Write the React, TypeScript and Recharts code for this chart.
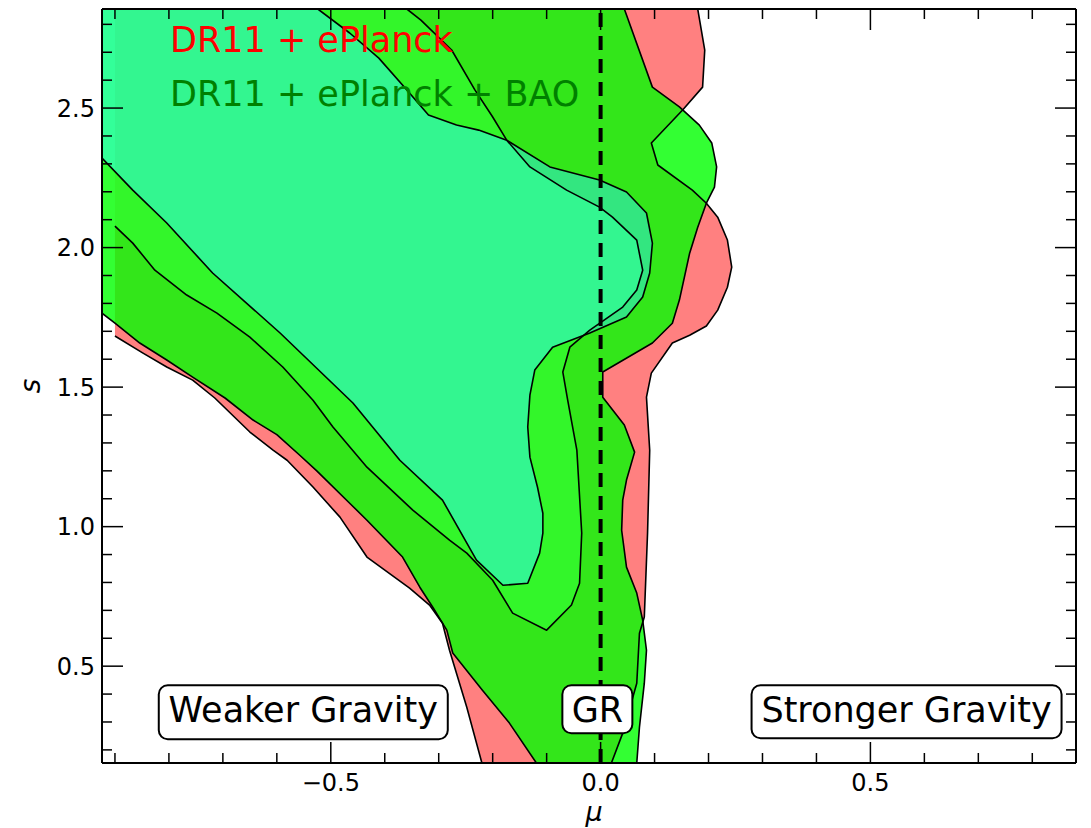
import React from 'react';
import { ScatterChart, Scatter, XAxis, YAxis } from 'recharts';

type Pt = [number, number];

// plotted window in (mu, s)
const MU_RANGE: [number, number] = [-0.924, 0.881];
const S_RANGE: [number, number] = [0.153, 2.855];
// the DR11 + ePlanck grid starts a little right of the frame
const RED_GRID_EDGE = -0.9;

const MU_TICKS = [-0.9, -0.8, -0.7, -0.6, -0.5, -0.4, -0.3, -0.2, -0.1, 0, 0.1, 0.2, 0.3, 0.4, 0.5, 0.6, 0.7, 0.8];
const S_TICKS = [
  0.2, 0.3, 0.4, 0.5, 0.6, 0.7, 0.8, 0.9, 1.0, 1.1, 1.2, 1.3, 1.4, 1.5, 1.6, 1.7, 1.8, 1.9,
  2.0, 2.1, 2.2, 2.3, 2.4, 2.5, 2.6, 2.7, 2.8,
];

// DR11 + ePlanck, 2-sigma contour: lower-left branch (top to bottom)
const RED_2SIG_LOW: Pt[] = [
  [-0.9, 1.683], [-0.848, 1.622], [-0.804, 1.572], [-0.756, 1.525], [-0.715, 1.461],
  [-0.65, 1.339], [-0.607, 1.274], [-0.581, 1.238], [-0.533, 1.142], [-0.483, 1.034],
  [-0.433, 0.891], [-0.354, 0.78], [-0.317, 0.719], [-0.293, 0.654], [-0.28, 0.557],
  [-0.248, 0.353], [-0.22, 0.153],
];
// DR11 + ePlanck, 2-sigma contour: right branch (bottom to top)
const RED_2SIG_RIGHT: Pt[] = [
  [0.02, 0.153], [0.041, 0.26], [0.067, 0.439], [0.072, 0.618], [0.081, 0.676],
  [0.087, 0.977], [0.091, 1.274], [0.085, 1.464], [0.094, 1.55], [0.133, 1.658],
  [0.165, 1.686], [0.196, 1.719], [0.217, 1.776], [0.235, 1.858], [0.243, 1.93],
  [0.235, 2.027], [0.217, 2.109], [0.196, 2.159], [0.17, 2.206], [0.106, 2.296],
  [0.094, 2.375], [0.152, 2.493], [0.189, 2.575], [0.193, 2.708], [0.18, 2.855],
];
// DR11 + ePlanck, 1-sigma contour (left edge round to the top edge)
const RED_1SIG: Pt[] = [
  [-0.9, 2.077], [-0.867, 2.016], [-0.826, 1.919], [-0.767, 1.83], [-0.711, 1.765],
  [-0.65, 1.679], [-0.589, 1.572], [-0.533, 1.453], [-0.496, 1.357], [-0.433, 1.213],
  [-0.348, 1.059], [-0.28, 0.952], [-0.248, 0.905], [-0.2, 0.808], [-0.163, 0.69],
  [-0.1, 0.629], [-0.054, 0.719], [-0.039, 0.797], [-0.035, 0.977], [-0.044, 1.274],
  [-0.061, 1.453], [-0.07, 1.554], [-0.057, 1.643], [-0.02, 1.704], [0.041, 1.787],
  [0.067, 1.848], [0.078, 1.919], [0.067, 2.027], [0.022, 2.109], [-0.002, 2.145],
  [-0.063, 2.206], [-0.131, 2.289], [-0.174, 2.385], [-0.2, 2.468], [-0.233, 2.565],
  [-0.276, 2.708], [-0.333, 2.815], [-0.359, 2.855],
];

// DR11 + ePlanck + BAO, 2-sigma contour: lower-left branch
const GREEN_2SIG_LOW: Pt[] = [
  [-0.924, 1.765], [-0.9, 1.729], [-0.854, 1.658], [-0.804, 1.597], [-0.756, 1.536],
  [-0.696, 1.461], [-0.644, 1.382], [-0.6, 1.33], [-0.557, 1.255], [-0.526, 1.2],
  [-0.465, 1.084], [-0.433, 1.023], [-0.367, 0.891], [-0.335, 0.783], [-0.311, 0.711],
  [-0.285, 0.629], [-0.274, 0.547], [-0.219, 0.414], [-0.169, 0.296], [-0.119, 0.153],
];
// DR11 + ePlanck + BAO, 2-sigma contour: right branch
const GREEN_2SIG_RIGHT: Pt[] = [
  [0.067, 0.153], [0.072, 0.281], [0.081, 0.439], [0.085, 0.557], [0.078, 0.665],
  [0.067, 0.762], [0.048, 0.855], [0.039, 0.987], [0.041, 1.095], [0.048, 1.167],
  [0.063, 1.267], [0.044, 1.364], [0.004, 1.464], [0.004, 1.554], [0.096, 1.658],
  [0.133, 1.729], [0.146, 1.812], [0.165, 1.98], [0.18, 2.073], [0.196, 2.159],
  [0.211, 2.217], [0.215, 2.289], [0.206, 2.375], [0.183, 2.439], [0.146, 2.504],
  [0.096, 2.575], [0.044, 2.855],
];
// DR11 + ePlanck + BAO, 1-sigma contour
const GREEN_1SIG: Pt[] = [
  [-0.924, 2.321], [-0.867, 2.206], [-0.804, 2.088], [-0.719, 1.909], [-0.594, 1.694],
  [-0.459, 1.443], [-0.372, 1.238], [-0.293, 1.095], [-0.23, 0.88], [-0.181, 0.79],
  [-0.135, 0.797], [-0.113, 0.905], [-0.107, 0.977], [-0.107, 1.048], [-0.117, 1.142],
  [-0.131, 1.249], [-0.135, 1.357], [-0.131, 1.471], [-0.122, 1.561], [-0.089, 1.643],
  [-0.02, 1.694], [0.048, 1.751], [0.078, 1.823], [0.091, 1.909], [0.096, 2.016],
  [0.085, 2.124], [0.048, 2.199], [-0.002, 2.242], [-0.094, 2.289], [-0.174, 2.385],
  [-0.226, 2.421], [-0.267, 2.439], [-0.319, 2.475], [-0.359, 2.565], [-0.411, 2.679],
  [-0.465, 2.769], [-0.524, 2.855],
];

// GR: mu = 0
const GR_LINE: Pt[] = [[0, S_RANGE[0]], [0, S_RANGE[1]]];

const KEY_LABELS = [
  { text: 'DR11 + ePlanck', at: [-0.798, 2.701] as Pt, color: '#ff0000' },
  { text: 'DR11 + ePlanck + BAO', at: [-0.798, 2.507] as Pt, color: '#008000' },
];
const REGIME_LABELS = [
  { text: 'Weaker Gravity', at: [-0.551, 0.299] as Pt },
  { text: 'GR', at: [-0.006, 0.299] as Pt },
  { text: 'Stronger Gravity', at: [0.567, 0.299] as Pt },
];
const BOX_SIZE: Record<string, { w: number; below: number }> = {
  'Weaker Gravity': { w: 289, below: 17 },
  GR: { w: 70, below: 11 },
  'Stronger Gravity': { w: 310, below: 16 },
};

const FONT = "'DejaVu Sans', 'Liberation Sans', sans-serif";
const SALMON = '#ff8080';
const RED_CORE = '#ffd0d0';
const LIME = '#00ff00';
const SPRING = '#00ff7f';
const MAJOR_LEN = 21;
const MINOR_LEN = 10;

// chart box and plot area (plot spans x 94..1068, y 1..755 inside the svg)
const CHART_W = 1075;
const CHART_H = 820;
const PLOT_LEFT = 94;
const PLOT_RIGHT = 1068;
const PLOT_TOP = 1;
const PLOT_BOTTOM = 755;

const rev = (a: Pt[]) => [...a].reverse();
const toXY = (a: Pt[]) => a.map(([x, y]) => ({ x, y }));

// filled regions: each ring is the outer contour with the inner one cut out
const redRing = [...RED_2SIG_LOW, ...RED_2SIG_RIGHT, ...rev(RED_1SIG)];
const redCore: Pt[] = [...RED_1SIG, [RED_GRID_EDGE, S_RANGE[1]]];
const greenRing = [...GREEN_2SIG_LOW, ...GREEN_2SIG_RIGHT, ...rev(GREEN_1SIG)];
const greenCore: Pt[] = [...GREEN_1SIG, [MU_RANGE[0], S_RANGE[1]]];

const polyPath = (pts: { x: number; y: number }[], close: boolean) =>
  pts.map((p, i) => `${i === 0 ? 'M' : 'L'}${p.x.toFixed(2)},${p.y.toFixed(2)}`).join(' ') + (close ? ' Z' : '');

const noMarker = () => <g />;

const fillLayer = (key: string, pts: Pt[], fill: string, opacity: number) => (
  <Scatter
    key={key}
    data={toXY(pts)}
    isAnimationActive={false}
    shape={noMarker}
    line={(p: any) => <path d={polyPath(p.points, true)} fill={fill} fillOpacity={opacity} stroke="none" />}
  />
);

const contourLine = (key: string, pts: Pt[]) => (
  <Scatter
    key={key}
    data={toXY(pts)}
    isAnimationActive={false}
    shape={noMarker}
    line={(p: any) => (
      <path d={polyPath(p.points, false)} fill="none" stroke="#000" strokeWidth={1.6} strokeLinejoin="round" />
    )}
  />
);

const isMajor = (v: number) => Math.abs(v * 2 - Math.round(v * 2)) < 1e-6;
const fmtTick = (v: number) => (v < -1e-9 ? '\u2212' : '') + Math.abs(v).toFixed(1);

const EdgeTick = (props: any) => {
  const { x, y, payload, side } = props;
  const v = payload?.value ?? 0;
  const major = isMajor(v);
  const len = major ? MAJOR_LEN : MINOR_LEN;
  let x2 = x;
  let y2 = y;
  if (side === 'bottom') y2 = y - len;
  else if (side === 'top') y2 = y + len;
  else if (side === 'left') x2 = x + len;
  else x2 = x - len;
  return (
    <g>
      <line x1={x} y1={y} x2={x2} y2={y2} stroke="#000" strokeWidth={1.5} />
      {major && side === 'bottom' && (
        <text x={x} y={y + 28} textAnchor="middle" fontFamily={FONT} fontSize={24} fill="#000">
          {fmtTick(v)}
        </text>
      )}
      {major && side === 'left' && (
        <text x={x - 7} y={y + 8.5} textAnchor="end" fontFamily={FONT} fontSize={24} fill="#000">
          {fmtTick(v)}
        </text>
      )}
    </g>
  );
};

// axis titles sit at fixed offsets from the plot area
const AxisTitle = (props: any) => {
  if (props.axis === 'x') {
    const x = (PLOT_LEFT + PLOT_RIGHT) / 2 + 5;
    const y = PLOT_BOTTOM + 58;
    return (
      <text x={x} y={y} textAnchor="middle" fontFamily={FONT} fontStyle="italic" fontSize={27} fill="#000">
        μ
      </text>
    );
  }
  const x = 32;
  const y = (PLOT_TOP + PLOT_BOTTOM) / 2;
  return (
    <text
      x={x}
      y={y}
      transform={`rotate(-90 ${x} ${y})`}
      textAnchor="middle"
      fontFamily={FONT}
      fontStyle="italic"
      fontSize={28}
      fill="#000"
    >
      s
    </text>
  );
};

const frame = { stroke: '#000', strokeWidth: 2 };

export default function App() {
  return (
    <ScatterChart width={CHART_W} height={CHART_H} margin={{ top: 0, right: 6, bottom: 0, left: 0 }}>
      {fillLayer('red-ring', redRing, SALMON, 1)}
      {fillLayer('red-core', redCore, RED_CORE, 1)}
      {fillLayer('green-ring', greenRing, LIME, 0.8)}
      {fillLayer('green-core', greenCore, SPRING, 0.8)}

      {contourLine('r2-low', RED_2SIG_LOW)}
      {contourLine('r2-right', RED_2SIG_RIGHT)}
      {contourLine('r1', RED_1SIG)}
      {contourLine('g2-low', GREEN_2SIG_LOW)}
      {contourLine('g2-right', GREEN_2SIG_RIGHT)}
      {contourLine('g1', GREEN_1SIG)}

      <Scatter
        data={toXY(GR_LINE)}
        isAnimationActive={false}
        shape={noMarker}
        line={(p: any) => (
          <path d={polyPath(p.points, false)} fill="none" stroke="#000" strokeWidth={4} strokeDasharray="14 9" />
        )}
      />

      {KEY_LABELS.map((k) => (
        <Scatter
          key={k.text}
          data={toXY([k.at])}
          isAnimationActive={false}
          shape={(p: any) => (
            <text x={p.cx} y={p.cy} fontFamily={FONT} fontSize={35} fill={k.color}>
              {k.text}
            </text>
          )}
        />
      ))}

      {REGIME_LABELS.map((r) => (
        <Scatter
          key={r.text}
          data={toXY([r.at])}
          isAnimationActive={false}
          shape={(p: any) => {
            const box = BOX_SIZE[r.text];
            const top = p.cy - 37;
            return (
              <g>
                <rect
                  x={p.cx - box.w / 2}
                  y={top}
                  width={box.w}
                  height={37 + box.below}
                  rx={9}
                  fill="#fff"
                  stroke="#000"
                  strokeWidth={2}
                />
                <text x={p.cx} y={p.cy} textAnchor="middle" fontFamily={FONT} fontSize={35} fill="#000">
                  {r.text}
                </text>
              </g>
            );
          }}
        />
      ))}

      <XAxis
        xAxisId={0}
        type="number"
        dataKey="x"
        domain={MU_RANGE}
        allowDataOverflow
        ticks={MU_TICKS}
        interval={0}
        height={CHART_H - PLOT_BOTTOM}
        tickSize={0}
        tickMargin={0}
        tickLine={false}
        axisLine={frame}
        tick={<EdgeTick side="bottom" />}
        label={<AxisTitle axis="x" />}
        zIndex={1500}
      />
      <XAxis
        xAxisId="top"
        orientation="top"
        type="number"
        dataKey="x"
        domain={MU_RANGE}
        allowDataOverflow
        ticks={MU_TICKS}
        interval={0}
        height={PLOT_TOP}
        tickSize={0}
        tickMargin={0}
        tickLine={false}
        axisLine={frame}
        tick={<EdgeTick side="top" />}
        zIndex={1500}
      />
      <YAxis
        yAxisId={0}
        type="number"
        dataKey="y"
        domain={S_RANGE}
        allowDataOverflow
        ticks={S_TICKS}
        interval={0}
        width={PLOT_LEFT}
        tickSize={0}
        tickMargin={0}
        tickLine={false}
        axisLine={frame}
        tick={<EdgeTick side="left" />}
        label={<AxisTitle axis="y" />}
        zIndex={1500}
      />
      <YAxis
        yAxisId="right"
        orientation="right"
        type="number"
        dataKey="y"
        domain={S_RANGE}
        allowDataOverflow
        ticks={S_TICKS}
        interval={0}
        width={CHART_W - 6 - PLOT_RIGHT}
        tickSize={0}
        tickMargin={0}
        tickLine={false}
        axisLine={frame}
        tick={<EdgeTick side="right" />}
        zIndex={1500}
      />
    </ScatterChart>
  );
}
